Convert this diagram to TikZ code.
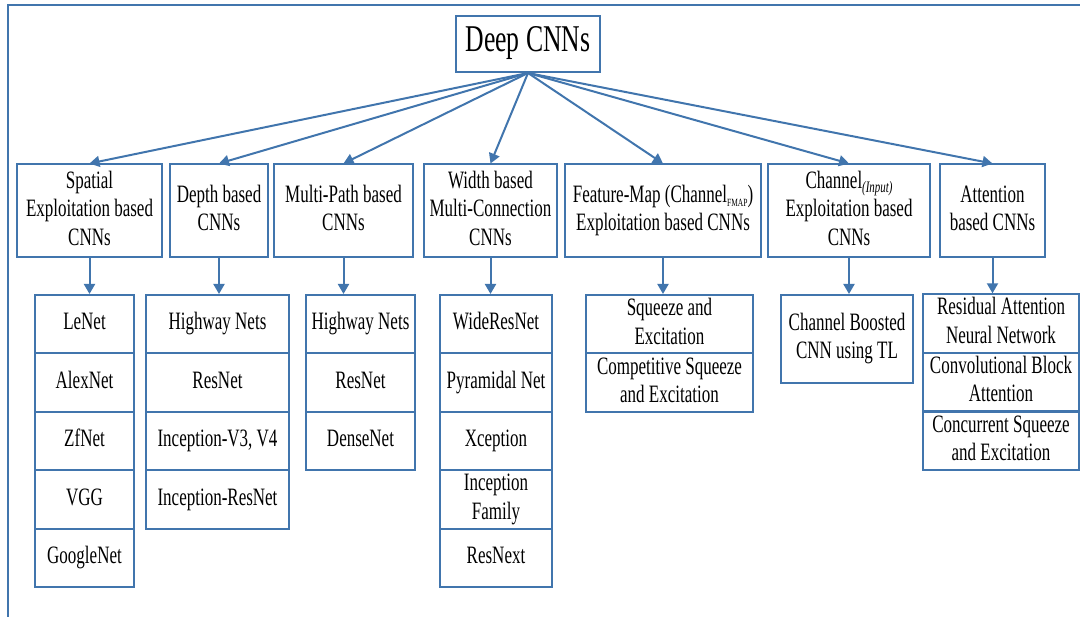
\documentclass[tikz,border=0pt]{standalone}
\usepackage{fontspec}
\usepackage{graphicx}
\setmainfont{Liberation Serif}
\usetikzlibrary{arrows.meta}
\definecolor{cnnblue}{RGB}{65,117,173}
\newcommand{\narrowtxt}[1]{\scalebox{0.68}[1]{\begin{tabular}{@{}c@{}}#1\end{tabular}}}

\begin{document}
\begin{tikzpicture}[x=1pt,y=-1pt,line width=2pt,
    box/.style={rectangle,draw=cnnblue,inner sep=0pt,align=center,font=\fontsize{25}{28.5}\selectfont},
    cat/.style={box,minimum height=93pt},
    cell/.style={box,minimum height=58.4pt},
    arr/.style={draw=cnnblue,-{Triangle[length=10pt,width=11pt]}}]
    \useasboundingbox (0,0) rectangle (1080,617);
    \draw [cnnblue] (8,617) -- (8,5) -- (1080,5);

    % root
    \node (deep) at (528,44) [box,minimum width=144pt,minimum height=56pt,font=\fontsize{37.8}{40}\selectfont]{\narrowtxt{Deep CNNs}};

    % categories
    \node (spatial) at (89.5,211) [cat,minimum width=145pt]{\narrowtxt{Spatial\\Exploitation based\\CNNs}};
    \node (depth) at (219,211) [cat,minimum width=98pt]{\narrowtxt{Depth based\\CNNs}};
    \node (multipath) at (343.5,211) [cat,minimum width=139pt]{\narrowtxt{Multi-Path based\\CNNs}};
    \node (width) at (490.5,211) [cat,minimum width=133pt]{\narrowtxt{Width based\\Multi-Connection\\CNNs}};
    \node (featmap) at (663,211) [cat,minimum width=196pt]{\narrowtxt{Feature-Map (Channel\raisebox{-4pt}{\fontsize{11}{11}\selectfont FMAP})\\Exploitation based CNNs}};
    \node (chanin) at (849,211) [cat,minimum width=162pt]{\narrowtxt{Channel\raisebox{-4pt}{\fontsize{16}{16}\selectfont\itshape (Input)}\\Exploitation based\\CNNs}};
    \node (attention) at (992.5,211) [cat,minimum width=105pt]{\narrowtxt{Attention\\based CNNs}};

    % spatial column
    \node (lenet) at (84.5,324.2) [cell,minimum width=99pt]{\narrowtxt{LeNet}};
    \node (alexnet) at (84.5,382.6) [cell,minimum width=99pt]{\narrowtxt{AlexNet}};
    \node (zfnet) at (84.5,441) [cell,minimum width=99pt]{\narrowtxt{ZfNet}};
    \node (vgg) at (84.5,499.4) [cell,minimum width=99pt]{\narrowtxt{VGG}};
    \node (googlenet) at (84.5,557.8) [cell,minimum width=99pt]{\narrowtxt{GoogleNet}};

    % depth column
    \node (highway1) at (217.5,324.2) [cell,minimum width=143pt]{\narrowtxt{Highway Nets}};
    \node (resnet1) at (217.5,382.6) [cell,minimum width=143pt]{\narrowtxt{ResNet}};
    \node (inception) at (217.5,441) [cell,minimum width=143pt]{\narrowtxt{Inception-V3, V4}};
    \node (incresnet) at (217.5,499.4) [cell,minimum width=143pt]{\narrowtxt{Inception-ResNet}};

    % multi-path column
    \node (highway2) at (360.5,324.2) [cell,minimum width=109pt]{\narrowtxt{Highway Nets}};
    \node (resnet2) at (360.5,382.6) [cell,minimum width=109pt]{\narrowtxt{ResNet}};
    \node (densenet) at (360.5,441) [cell,minimum width=109pt]{\narrowtxt{DenseNet}};

    % width column
    \node (wideresnet) at (496,324.2) [cell,minimum width=112pt]{\narrowtxt{WideResNet}};
    \node (pyramidal) at (496,382.6) [cell,minimum width=112pt]{\narrowtxt{Pyramidal Net}};
    \node (xception) at (496,441) [cell,minimum width=112pt]{\narrowtxt{Xception}};
    \node (incfamily) at (496,499.4) [cell,minimum width=112pt]{\narrowtxt{Inception\\Family}};
    \node (resnext) at (496,557.8) [cell,minimum width=112pt]{\narrowtxt{ResNext}};

    % feature-map column
    \node (senet) at (669.5,324.2) [cell,minimum width=167pt]{\narrowtxt{Squeeze and\\Excitation}};
    \node (cmpse) at (669.5,382.6) [cell,minimum width=167pt]{\narrowtxt{Competitive Squeeze\\and Excitation}};

    % channel column
    \node (cbcnn) at (847,339) [box,minimum width=132pt,minimum height=88pt]{\narrowtxt{Channel Boosted\\CNN using TL}};

    % attention column
    \node (ran) at (1001,323.5) [cell,minimum width=156pt]{\narrowtxt{Residual Attention\\Neural Network}};
    \node (cbam) at (1001,382) [cell,minimum width=156pt]{\narrowtxt{Convolutional Block\\Attention}};
    \node (csse) at (1001,441) [cell,minimum width=156pt]{\narrowtxt{Concurrent Squeeze\\and Excitation}};

    \draw [arr] (deep.270) to (spatial.90);
    \draw [arr] (deep.270) to (depth.90);
    \draw [arr] (deep.270) to (multipath.90);
    \draw [arr] (deep.270) to (width.90);
    \draw [arr] (deep.270) to (featmap.90);
    \draw [arr] (deep.270) to (chanin.90);
    \draw [arr] (deep.270) to (attention.90);

    \draw [arr] (spatial.270) to (spatial.270 |- lenet.90);
    \draw [arr] (depth.270) to (depth.270 |- highway1.90);
    \draw [arr] (multipath.270) to (multipath.270 |- highway2.90);
    \draw [arr] (width.270) to (width.270 |- wideresnet.90);
    \draw [arr] (featmap.270) to (featmap.270 |- senet.90);
    \draw [arr] (chanin.270) to (chanin.270 |- cbcnn.90);
    \draw [arr] (attention.270) to (attention.270 |- ran.90);
\end{tikzpicture}
\end{document}
